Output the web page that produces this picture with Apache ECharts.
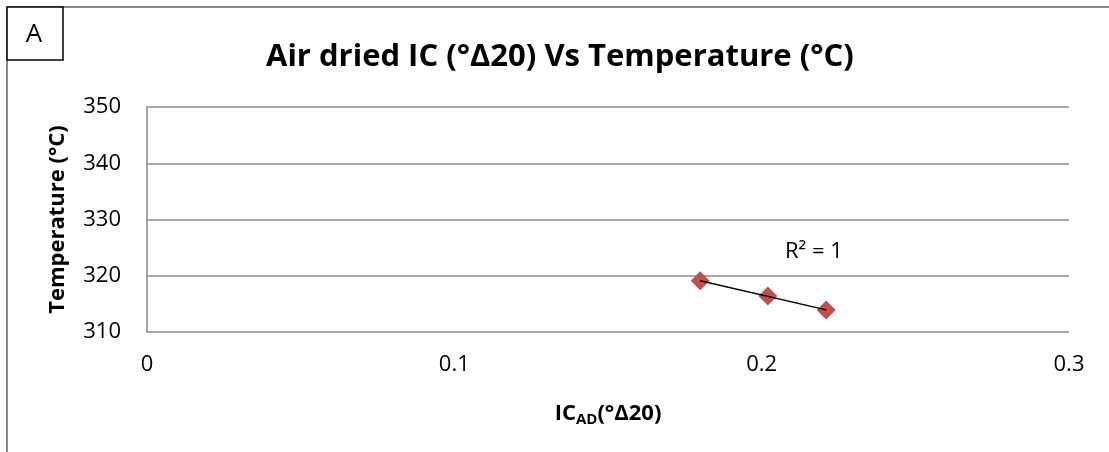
<!DOCTYPE html>
<html>
<head>
<meta charset="utf-8">
<script src="https://cdn.jsdelivr.net/npm/echarts@6/dist/echarts.min.js"></script>
<style>
  html, body { margin: 0; padding: 0; background: #fff; }
  #chart { width: 1109px; height: 452px; }
</style>
</head>
<body>
<div id="chart"></div>
<script>
// Air dried IC vs temperature measurements
const icValues = [0.180, 0.202, 0.221];
const temperatures = [319.1, 316.4, 313.9];
const xTicks = [0, 0.1, 0.2, 0.3];
const yTicks = [310, 320, 330, 340, 350];

// Least-squares linear trend line over the measured range
function linearFit(xs, ys) {
  const n = xs.length;
  const mx = xs.reduce((a, b) => a + b, 0) / n;
  const my = ys.reduce((a, b) => a + b, 0) / n;
  let sxy = 0, sxx = 0, syy = 0;
  for (let i = 0; i < n; i++) {
    sxy += (xs[i] - mx) * (ys[i] - my);
    sxx += (xs[i] - mx) * (xs[i] - mx);
    syy += (ys[i] - my) * (ys[i] - my);
  }
  const slope = sxy / sxx;
  const intercept = my - slope * mx;
  const r2 = (sxy * sxy) / (sxx * syy);
  return { slope, intercept, r2 };
}
const fit = linearFit(icValues, temperatures);
const xMin = Math.min(...icValues), xMax = Math.max(...icValues);
const trend = [xMin, xMax].map(x => [x, fit.intercept + fit.slope * x]);
const points = icValues.map((x, i) => [x, temperatures[i]]);

const FONT = '"Open Sans", "Liberation Sans", sans-serif';
const GRID_COLOR = '#8a8a8a';
const chart = echarts.init(document.getElementById('chart'), null, { renderer: 'canvas' });

// frame, panel label and R² annotation
function decorations(r2Pos) {
  const items = [
    { type: 'line', shape: { x1: 7, y1: 7, x2: 1109, y2: 7 }, style: { stroke: GRID_COLOR, lineWidth: 2 } },
    { type: 'line', shape: { x1: 7, y1: 7, x2: 7, y2: 452 }, style: { stroke: GRID_COLOR, lineWidth: 2 } },
    { type: 'rect', shape: { x: 7, y: 7, width: 56, height: 53 }, style: { fill: '#fff', stroke: '#000', lineWidth: 1.5 }, z: 10 },
    { type: 'text', x: 34, y: 35, style: { text: 'A', fontFamily: FONT, fontSize: 26, fill: '#000', align: 'center', verticalAlign: 'middle' }, z: 11 }
  ];
  if (r2Pos) {
    items.push({
      type: 'text', x: r2Pos[0], y: r2Pos[1],
      style: { text: 'R² = ' + (Math.round(fit.r2 * 100) / 100), fontFamily: FONT, fontSize: 22, fill: '#000', align: 'center', verticalAlign: 'middle' }
    });
  }
  return items;
}

chart.setOption({
  animation: false,
  backgroundColor: '#fff',
  title: {
    text: 'Air dried IC (°Δ20) Vs Temperature (°C)',
    left: 261,
    top: 37,
    textStyle: { fontFamily: FONT, fontWeight: 'bold', fontSize: 31, color: '#000' }
  },
  grid: { left: 147, right: 40, top: 107, bottom: 120 },
  xAxis: {
    type: 'value',
    min: xTicks[0],
    max: xTicks[xTicks.length - 1],
    interval: 0.1,
    axisLine: { show: false },
    axisTick: { show: false },
    splitLine: { show: false },
    axisLabel: {
      margin: 22, fontFamily: FONT, fontSize: 22, color: '#000',
      formatter: v => String(Math.round(v * 10) / 10)
    },
    name: '{b|IC}{s|AD}{b|(°Δ20)}',
    nameLocation: 'middle',
    nameGap: 68,
    nameTextStyle: {
      rich: {
        b: { fontFamily: FONT, fontWeight: 'bold', fontSize: 22, color: '#000' },
        s: { fontFamily: FONT, fontWeight: 'bold', fontSize: 15, color: '#000', verticalAlign: 'bottom', padding: [12, 0, 0, 0] }
      }
    }
  },
  yAxis: {
    type: 'value',
    min: yTicks[0],
    max: yTicks[yTicks.length - 1],
    interval: 10,
    axisLine: { show: true, lineStyle: { color: GRID_COLOR, width: 1.5 } },
    axisTick: { show: false },
    splitLine: { show: true, lineStyle: { color: GRID_COLOR, width: 1.5 } },
    axisLabel: { margin: 26, fontFamily: FONT, fontSize: 22, color: '#000' },
    name: 'Temperature (°C)',
    nameLocation: 'middle',
    nameGap: 78,
    nameTextStyle: { fontFamily: FONT, fontWeight: 'bold', fontSize: 22, color: '#000' }
  },
  series: [
    {
      type: 'line',
      data: trend,
      symbol: 'none',
      lineStyle: { color: '#000', width: 1.5 },
      z: 3
    },
    {
      type: 'scatter',
      data: points,
      symbol: 'diamond',
      symbolSize: 19,
      itemStyle: { color: '#C0504D', opacity: 1 },
      z: 2
    }
  ],
  graphic: decorations(null)
});

// R² annotation placed just above the trend line
const anchor = chart.convertToPixel({ seriesIndex: 1 }, [0.217, 324.3]);
chart.setOption({ graphic: decorations(anchor) });
</script>
</body>
</html>
